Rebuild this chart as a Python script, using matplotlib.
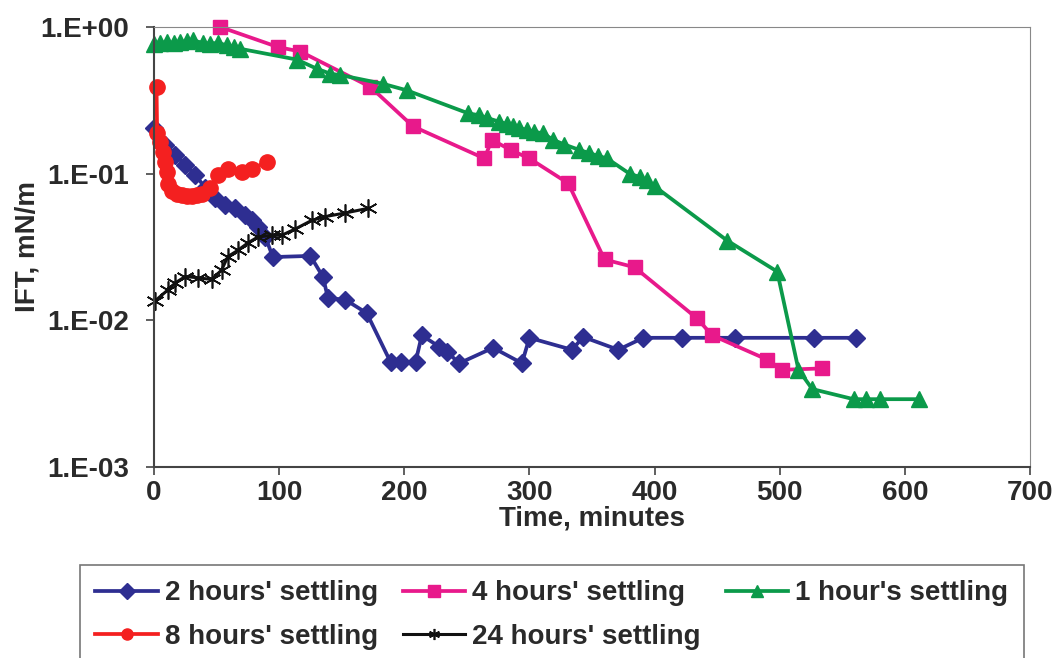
import matplotlib
matplotlib.use("Agg")
import matplotlib.pyplot as plt
from matplotlib.ticker import FixedLocator, FixedFormatter, NullLocator

plt.rcParams['font.family'] = ['Liberation Sans', 'DejaVu Sans']
plt.rcParams['font.weight'] = 'bold'

# 2 hours' settling
t_2h = [0, 9, 17, 25, 33, 41, 49, 57, 65, 73, 78, 83, 89, 95, 125, 135, 139, 153, 170,
        189, 197, 209, 214, 228, 234, 244, 271, 294, 300, 334, 343, 371, 391, 422, 464, 527, 561]
ift_2h = [0.205, 0.157, 0.134, 0.115, 0.098, 0.080, 0.068, 0.061, 0.058, 0.052, 0.048, 0.043,
          0.037, 0.027, 0.0275, 0.0198, 0.0142, 0.0138, 0.0112,
          0.0052, 0.0052, 0.0052, 0.0079, 0.0066, 0.0061, 0.0051, 0.0065, 0.0051, 0.0076,
          0.0063, 0.0077, 0.0063, 0.0076, 0.0076, 0.0076, 0.0076, 0.0076]

# 4 hours' settling
t_4h = [53, 99, 117, 173, 207, 264, 270, 285, 300, 331, 360, 384, 434, 446, 490, 502, 534]
ift_4h = [1.0, 0.73, 0.68, 0.39, 0.21, 0.127, 0.17, 0.145, 0.127, 0.086, 0.026, 0.023,
          0.0103, 0.0079, 0.0054, 0.0046, 0.0047]

# 1 hour's settling
t_1h = [0, 5, 10, 16, 21, 26, 31, 39, 45, 51, 58, 64, 69, 114, 130, 141, 149, 183, 202,
        251, 260, 266, 276, 282, 287, 292, 298, 304, 311, 319, 328, 340, 348, 355, 362,
        380, 388, 394, 400, 458, 498, 515, 526, 559, 569, 580, 611]
ift_1h = [0.76, 0.78, 0.79, 0.78, 0.79, 0.80, 0.81, 0.78, 0.77, 0.78, 0.75, 0.73, 0.71,
          0.60, 0.52, 0.48, 0.47, 0.41, 0.37,
          0.258, 0.25, 0.24, 0.226, 0.218, 0.21, 0.204, 0.199, 0.193, 0.188, 0.17, 0.158,
          0.145, 0.138, 0.132, 0.127, 0.10, 0.095, 0.09, 0.082, 0.035, 0.0215, 0.0046,
          0.0034, 0.0029, 0.0029, 0.0029, 0.0029]

# 8 hours' settling
t_8h = [2, 2.5, 5, 7, 9, 10, 11, 14, 18, 22, 26, 30, 34, 38, 45, 51, 59, 70, 78, 90]
ift_8h = [0.39, 0.19, 0.165, 0.14, 0.12, 0.103, 0.085, 0.076, 0.073, 0.072, 0.070, 0.070,
          0.071, 0.073, 0.080, 0.098, 0.108, 0.103, 0.108, 0.12]

# 24 hours' settling
t_24h = [1, 11, 17, 25, 35, 46, 54, 59, 67, 75, 83, 94, 102, 113, 126, 137, 153, 171]
ift_24h = [0.0136, 0.0161, 0.018, 0.0199, 0.0195, 0.019, 0.022, 0.0272, 0.030, 0.0337,
           0.037, 0.038, 0.038, 0.042, 0.048, 0.051, 0.054, 0.058]

FS = 20
W, H = 1062, 658

fig = plt.figure(figsize=(W / 100, H / 100), dpi=100)
ax = fig.add_axes([154 / W, 1 - 467 / H, (1030 - 154) / W, (467 - 27) / H])

l_2h, = ax.plot(t_2h, ift_2h, color="#2e2e91", marker="D", markersize=9, linewidth=2.7,
                label="2 hours' settling", clip_on=False)
l_4h, = ax.plot(t_4h, ift_4h, color="#e8198b", marker="s", markersize=10, linewidth=2.7,
                label="4 hours' settling", clip_on=False)
l_1h, = ax.plot(t_1h, ift_1h, color="#0b9a4a", marker="^", markersize=11, linewidth=2.7,
                label="1 hour's settling", clip_on=False)
l_8h, = ax.plot(t_8h, ift_8h, color="#f42020", marker="o", markersize=11, linewidth=2.7,
                label="8 hours' settling", clip_on=False)
l_24h, = ax.plot(t_24h, ift_24h, color="#111111", marker=(6, 2, 0), markersize=13,
                 markeredgewidth=1.2, linewidth=2.2, label="24 hours' settling", clip_on=False)

ax.set_yscale("log")
ax.set_ylim(1e-3, 1)
ax.set_xlim(0, 700)
ax.yaxis.set_major_locator(FixedLocator([1e-3, 1e-2, 1e-1, 1]))
ax.yaxis.set_major_formatter(FixedFormatter(["1.E-03", "1.E-02", "1.E-01", "1.E+00"]))
ax.yaxis.set_minor_locator(NullLocator())
ax.set_xticks(range(0, 701, 100))

ax.tick_params(axis="both", direction="out", length=6, width=1.2, color="#444444",
               labelsize=FS)
ax.tick_params(axis="y", pad=12)
ax.tick_params(axis="x", pad=3)
for lab in ax.get_xticklabels() + ax.get_yticklabels():
    lab.set_fontweight("bold")
    lab.set_color("#2a2a2a")

ax.spines["left"].set_color("#444444")
ax.spines["bottom"].set_color("#444444")
ax.spines["left"].set_linewidth(1.5)
ax.spines["bottom"].set_linewidth(1.5)
ax.spines["top"].set_color("#888888")
ax.spines["right"].set_color("#888888")

ax.set_xlabel("Time, minutes", fontsize=FS, fontweight="bold", labelpad=0, color="#2a2a2a")
ax.set_ylabel("IFT, mN/m", fontsize=FS, fontweight="bold", labelpad=0, color="#2a2a2a")

# column-wise fill: row 1 = 2h, 4h, 1h ; row 2 = 8h, 24h
handles = [l_2h, l_8h, l_4h, l_24h, l_1h]
leg = fig.legend(handles=handles, labels=[h.get_label() for h in handles], ncol=3,
                 loc="upper left", bbox_to_anchor=(80 / W, 1 - 565 / H),
                 frameon=True, fancybox=False, fontsize=FS,
                 handlelength=2.25, handletextpad=0.25, columnspacing=0.9,
                 borderaxespad=0, borderpad=0.55, labelspacing=0.62)
leg.get_frame().set_edgecolor("#555555")
leg.get_frame().set_linewidth(1.2)
for txt in leg.get_texts():
    txt.set_fontweight("bold")
    txt.set_color("#2a2a2a")
for h in leg.legend_handles:
    h.set_markersize(8)

fig.savefig("out.png", dpi=100)
